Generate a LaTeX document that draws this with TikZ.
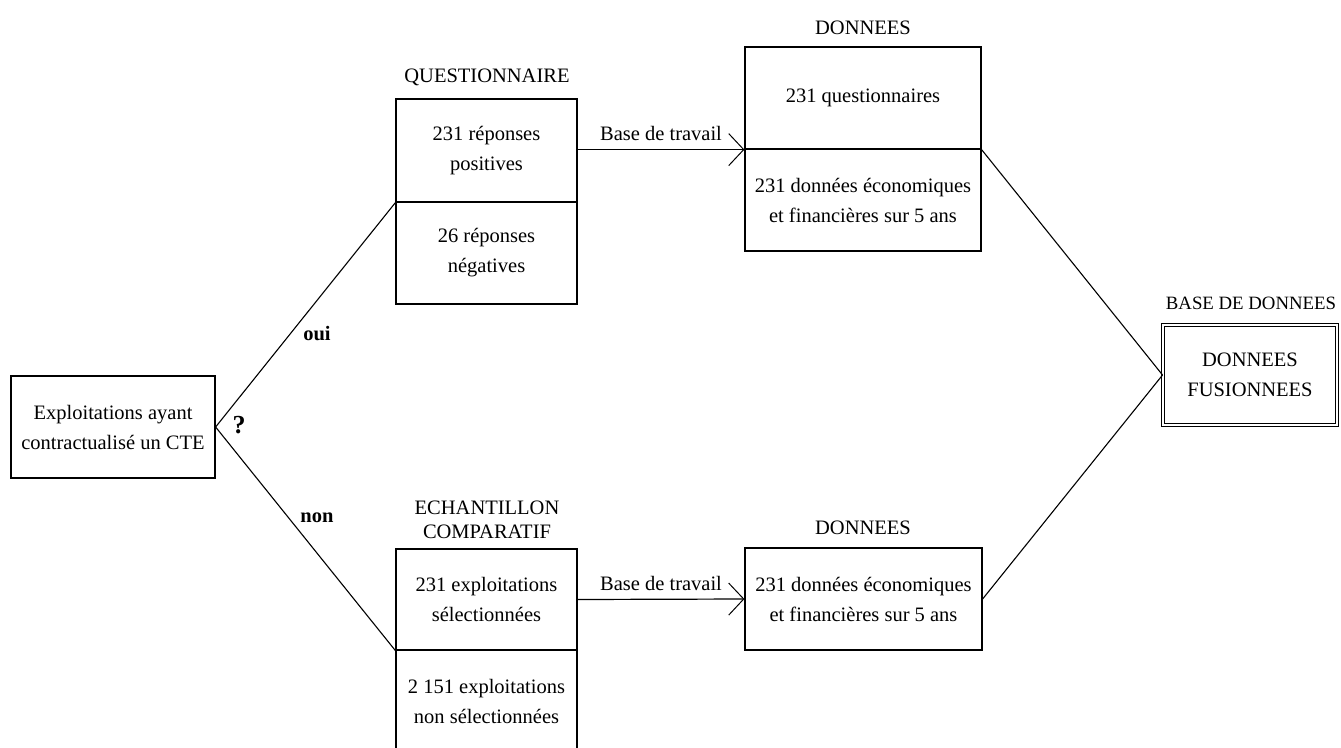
\documentclass[tikz,border=0pt]{standalone}
\usepackage{fontspec}
\setmainfont{Liberation Serif}
\usetikzlibrary{arrows.meta}
\tikzset{
  box/.style={draw, line width=1.2pt, inner sep=0pt, align=center, font=\fontsize{20.5}{30}\selectfont},
  lbl/.style={inner sep=0pt, align=center, font=\fontsize{20.5}{24}\selectfont},
  conn/.style={line width=1.1pt},
  arr/.style={line width=1.2pt, -{Straight Barb[length=15pt,width=32pt,line width=1pt]}},
  yn/.style={inner sep=0pt, font=\fontsize{20.5}{24}\selectfont\bfseries},
}
\begin{document}
\begin{tikzpicture}[x=1pt,y=-1pt]
\useasboundingbox (0,0) rectangle (1341,747);
\clip (0,0) rectangle (1341,747);
% left box
\node[box, minimum width=204pt, minimum height=102pt] (cte) at (113,427) {Exploitations ayant\\contractualisé un CTE};
% questionnaire
\node[box, minimum width=181pt, minimum height=103pt] (q1) at (486.5,150.5) {231 réponses\\positives};
\node[box, minimum width=181pt, minimum height=102pt] (q2) at (486.5,253) {26 réponses\\négatives};
\node[lbl] (qlab) at (487,77) {QUESTIONNAIRE};
% echantillon
\node[box, minimum width=181pt, minimum height=101pt] (e1) at (486.5,599.5) {231 exploitations\\sélectionnées};
\node[box, minimum width=181pt, minimum height=102pt] (e2) at (486.5,701) {2 151 exploitations\\non sélectionnées};
\node[lbl] (elab) at (487,520) {ECHANTILLON\\COMPARATIF};
% donnees top
\node[box, minimum width=236pt, minimum height=102pt] (d1) at (863,98) {231 questionnaires};
\node[box, minimum width=236pt, minimum height=102pt] (d2) at (863,200) {231 données économiques\\et financières sur 5 ans};
\node[lbl] (dlab1) at (863,28) {DONNEES};
% donnees bottom
\node[box, minimum width=237pt, minimum height=102pt] (f1) at (863.5,599) {231 données économiques\\et financières sur 5 ans};
\node[lbl] (dlab2) at (863,528) {DONNEES};
% fusion
\node[box, double, double distance=2.5pt, line width=0.9pt, minimum width=174pt, minimum height=100pt] (fus) at (1250,375) {DONNEES\\FUSIONNEES};
\node[lbl, font=\fontsize{18.8}{24}\selectfont] (blab) at (1251,303) {BASE DE DONNEES};
% connectors
\draw[conn] (cte.east) -- (q1.south west);
\draw[conn] (cte.east) -- (e1.south west);
\draw[arr] (q1.east |- d1.south west) -- (d1.south west) node[midway, above=8pt, lbl] (bt1) {Base de travail};
\draw[arr] (e1.east) -- (f1.west) node[midway, above=8pt, lbl] (bt2) {Base de travail};
\draw[conn] (d1.south east) -- (fus.west);
\draw[conn] (f1.east) -- (fus.west);
% labels
\node[yn] (oui) at (317,334) {oui};
\node[yn] (non) at (317,518) {non};
\node[yn, font=\fontsize{26}{28}\selectfont\bfseries] (qm) at (239,425) {?};
\end{tikzpicture}
\end{document}
